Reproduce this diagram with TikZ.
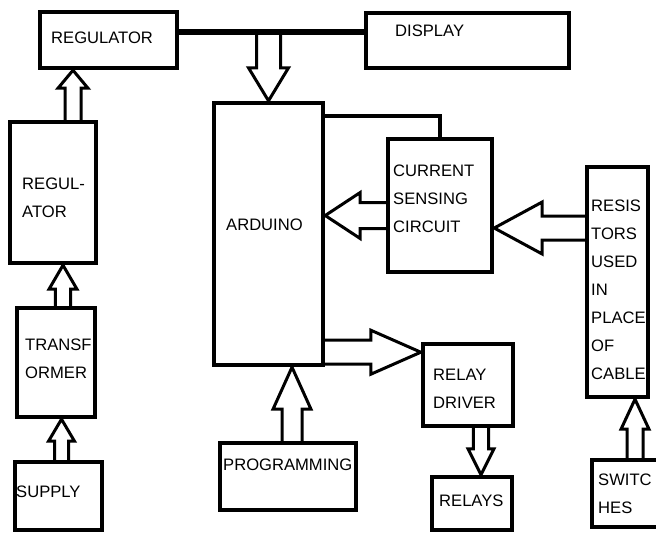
\documentclass[tikz,border=0pt]{standalone}
\usepackage{fontspec}
\setmainfont{Liberation Sans}
\usetikzlibrary{calc,positioning}

% hollow block arrow: shaft half width, head half width, head length, from, to
\newcommand{\blockarrow}[5]{%
  \coordinate (ba-s) at (#4);
  \coordinate (ba-t) at (#5);
  \coordinate (ba-m) at ($(ba-t)!#3!(ba-s)$);
  \draw [arrowline] ($(ba-s)!#1!90:(ba-t)$) -- ($(ba-m)!#1!90:(ba-t)$) -- ($(ba-m)!#2!90:(ba-t)$) -- (ba-t)
    -- ($(ba-m)!#2!-90:(ba-t)$) -- ($(ba-m)!#1!-90:(ba-t)$) -- ($(ba-s)!#1!-90:(ba-t)$);
}

\begin{document}
\begin{tikzpicture}[x=0.5pt,y=-0.5pt]

\tikzstyle{box}=[draw,line width=2.2pt,fill=white,inner sep=0pt]
\tikzstyle{txt}=[inner sep=0pt,anchor=west,align=left,font=\fontsize{8.3}{14}\selectfont]
\tikzstyle{arrowline}=[line width=1.5pt]
\tikzstyle{bus}=[line width=3pt]

\useasboundingbox (0,0) rectangle (656,532);

% power side
\node (reg) [box,minimum width=68.5pt,minimum height=28pt] at (108.5,40) {};
\node (reg-txt) [txt] at ($(reg.west)+(13,-2)$) {REGULATOR};

\node (disp) [box,minimum width=101.5pt,minimum height=27.5pt] at (467.5,40.5) {};
\node (disp-txt) [txt] at ($(disp.west)+(31,-10)$) {DISPLAY};

\node (regul) [box,minimum width=43pt,minimum height=70.5pt] at (53,192.5) {};
\node (regul-txt) [txt] at ($(regul.west)+(14,5)$) {REGUL-\\ATOR};

\node (trans) [box,minimum width=39pt,minimum height=54.5pt] at (56,362.5) {};
\node (trans-txt) [txt] at ($(trans.west)+(10,-4)$) {TRANSF\\ORMER};

\node (supply) [box,minimum width=43.5pt,minimum height=34pt] at (58.5,496) {};
\node (supply-txt) [txt] at ($(supply.west)+(3,-4)$) {SUPPLY};

% controller side
\node (ard) [box,minimum width=54.5pt,minimum height=131pt] at (268.5,234) {};
\node (ard-txt) [txt] at ($(ard.west)+(14,-9)$) {ARDUINO};

\node (cs) [box,minimum width=52pt,minimum height=66.5pt] at (440,205.5) {};
\node (cs-txt) [txt] at ($(cs.west)+(7,-7)$) {CURRENT\\SENSING\\CIRCUIT};

\node (res) [box,minimum width=30.5pt,minimum height=115pt] at (617.5,282) {};
\node (res-txt) [txt] at ($(res.west)+(6,8)$) {RESIS\\TORS\\USED\\IN\\PLACE\\OF\\CABLE};

\node (relayd) [box,minimum width=45pt,minimum height=41pt] at (468,385) {};
\node (relayd-txt) [txt] at ($(relayd.west)+(12,4)$) {RELAY\\DRIVER};

\node (relays) [box,minimum width=40pt,minimum height=26.5pt] at (472,503.5) {};
\node (relays-txt) [txt] at ($(relays.west)+(9,-3)$) {RELAYS};

\node (prog) [box,minimum width=68pt,minimum height=33.5pt] at (288,476.5) {};
\node (prog-txt) [txt] at ($(prog.west)+(5,-12)$) {PROGRAMMING};

\node (sw) [box,minimum width=35pt,minimum height=33.5pt] at (627,493.5) {};
\node (sw-txt) [txt] at ($(sw.west)+(8,0)$) {SWITC\\HES};

% plain lines
\draw [bus] ($(reg.east)+(0,-8)$) coordinate (bus-l) -- (bus-l -| disp.west);
\draw [line width=2pt] ($(ard.north east)+(0,15)$) -| (cs.north);

% block arrows
\blockarrow{4pt}{7.5pt}{9pt}{$(regul.north)+(20,0)$}{ba-s |- reg.south}
\blockarrow{3.8pt}{7pt}{12pt}{$(trans.north)+(7,0)$}{ba-s |- regul.south}
\blockarrow{3.5pt}{6.5pt}{11pt}{$(supply.north)+(3,0)$}{ba-s |- trans.south}
\blockarrow{6pt}{10pt}{16.5pt}{bus-l -| ard.north}{ba-s |- ard.north}
\blockarrow{6.5pt}{11.5pt}{17.5pt}{$(cs.west)+(0,10)$}{ba-s -| ard.east}
\blockarrow{6pt}{13pt}{24pt}{$(res.west)+(0,-54)$}{ba-s -| cs.east}
\blockarrow{6pt}{11pt}{25pt}{$(ard.south east)+(0,-15)$}{ba-s -| relayd.west}
\blockarrow{3.8pt}{6.5pt}{13pt}{$(relayd.south)+(13,0)$}{ba-s |- relays.north}
\blockarrow{5pt}{9.5pt}{21pt}{$(prog.north)+(4,0)$}{ba-s |- ard.south}
\blockarrow{4pt}{7pt}{15pt}{$(sw.north)+(8,0)$}{ba-s |- res.south}

\end{tikzpicture}
\end{document}
